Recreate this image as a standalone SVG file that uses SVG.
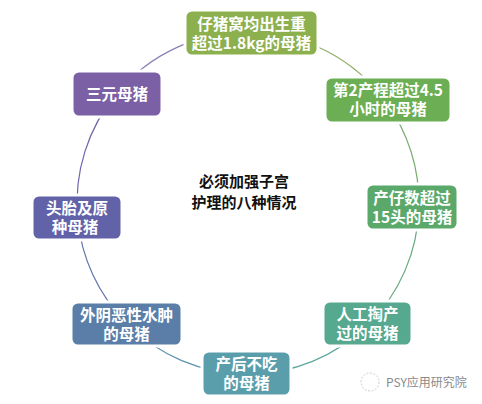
<svg xmlns="http://www.w3.org/2000/svg" width="482" height="404" viewBox="0 0 482 404">
<style>
.box{stroke:#ffffff;stroke-width:3}
.t{font-family:"Noto Sans CJK SC","Microsoft YaHei",sans-serif;font-size:15.5px;font-weight:bold;fill:#ffffff;text-anchor:middle}
.c{font-family:"Noto Sans CJK SC",sans-serif;font-size:15px;font-weight:bold;fill:#111111;text-anchor:middle}
.arc{fill:none;stroke-width:1.2}
</style>
<rect width="482" height="404" fill="#ffffff"/>
<g id="connectors">
<path class="arc" stroke="#8fae68" d="M251.6,32 A171,171 0 0 1 385.8,101.8"/>
<path class="arc" stroke="#78ad6a" d="M385.8,101.8 A171,171 0 0 1 418.9,207.2"/>
<path class="arc" stroke="#62a87a" d="M418.9,207.2 A171,171 0 0 1 368.5,324.3"/>
<path class="arc" stroke="#5aa79c" d="M368.5,324.3 A171,171 0 0 1 246.5,374"/>
<path class="arc" stroke="#5b93ad" d="M246.5,374 A171,171 0 0 1 126.9,323.7"/>
<path class="arc" stroke="#6174ab" d="M126.9,323.7 A171,171 0 0 1 77.6,217.3"/>
<path class="arc" stroke="#6e66ab" d="M77.6,217.3 A171,171 0 0 1 116.6,93.5"/>
<path class="arc" stroke="#8a7fb2" d="M116.6,93.5 A171,171 0 0 1 251.6,32"/>
</g>
<g id="n1">
<rect class="box" x="185" y="10" width="133" height="46" rx="7" fill="#8db04f"/>
<text class="t" x="251.5" y="29.5">仔猪窝均出生重<tspan x="251.5" dy="19.5">超过1.8kg的母猪</tspan></text>
</g>
<g id="n2">
<rect class="box" x="325" y="77" width="126" height="46" rx="7" fill="#6cae53"/>
<text class="t" x="388" y="95.5">第2产程超过4.5<tspan x="388" dy="19.5">小时的母猪</tspan></text>
</g>
<g id="n3">
<rect class="box" x="366" y="184" width="92" height="46" rx="7" fill="#5aa96b"/>
<text class="t" x="412" y="203.5">产仔数超过<tspan x="412" dy="19.5">15头的母猪</tspan></text>
</g>
<g id="n4">
<rect class="box" x="323" y="301" width="89" height="45" rx="7" fill="#56a88f"/>
<text class="t" x="367.5" y="319.5">人工掏产<tspan x="367.5" dy="19.5">过的母猪</tspan></text>
</g>
<g id="n5">
<rect class="box" x="202" y="351" width="89" height="45" rx="7" fill="#5b9eab"/>
<text class="t" x="246.5" y="369.5">产后不吃<tspan x="246.5" dy="19.5">的母猪</tspan></text>
</g>
<g id="n6">
<rect class="box" x="71" y="302" width="111" height="44" rx="7" fill="#5a7ea8"/>
<text class="t" x="126.5" y="320.5">外阴恶性水肿<tspan x="126.5" dy="19.5">的母猪</tspan></text>
</g>
<g id="n7">
<rect class="box" x="32" y="195" width="90" height="45" rx="7" fill="#6262a8"/>
<text class="t" x="77" y="213.5">头胎及原<tspan x="75" dy="19.5">种母猪</tspan></text>
</g>
<g id="n8">
<rect class="box" x="72" y="71" width="90" height="46" rx="7" fill="#7b60a6"/>
<text class="t" x="117" y="100">三元母猪</text>
</g>
<g id="center">
<text class="c" x="244" y="187">必须加强子宫<tspan x="244" dy="21">护理的八种情况</tspan></text>
</g>
<g id="watermark">
<circle cx="370" cy="382" r="9" fill="none" stroke="#cccccc" stroke-width="1" stroke-dasharray="2,1.5"/>
<text x="386" y="387" font-family="Noto Sans CJK SC,sans-serif" font-size="12" fill="#8a8a8a">PSY应用研究院</text>
</g>
</svg>
